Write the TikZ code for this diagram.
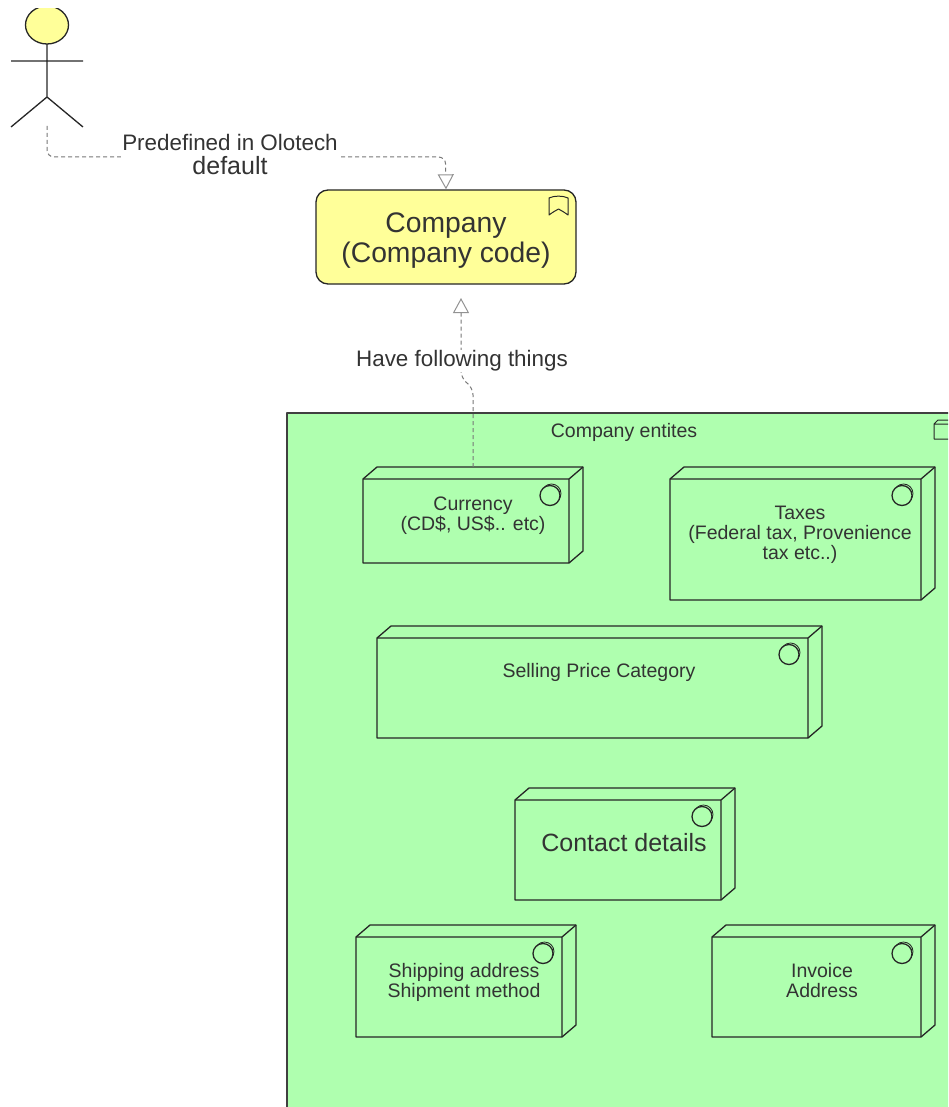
\documentclass[tikz,border=0pt]{standalone}
\usepackage{fontspec}
\setmainfont{Liberation Sans}
\usetikzlibrary{arrows.meta}
\definecolor{entgreen}{HTML}{AFFFAF}
\definecolor{compyellow}{HTML}{FFFF99}
\definecolor{labelgrey}{HTML}{333333}
\definecolor{linkgrey}{HTML}{777777}
\tikzset{
  boxline/.style={draw=black!85,line width=1.3pt,line join=round},
  linkline/.style={draw=linkgrey,line width=1pt,dash pattern=on 4pt off 3pt,rounded corners=7pt},
  linktip/.style={-{Triangle[open,length=15pt,width=16pt,line width=1pt,color=linkgrey!80]}},
  boxlabel/.style={text=labelgrey,align=center,inner sep=0pt,font=\fontsize{19.5}{20}\selectfont},
  linklabel/.style={text=labelgrey,align=center,fill=white,inner sep=1pt,font=\fontsize{22.4}{24}\selectfont},
}
% front face x0,y0 to x1,y1 with its side and top
\newcommand{\devicebox}[5]{
  \draw [boxline,fill=entgreen] (#2,#3) -- (#2+14,#3-12) -- (#4+14,#3-12) -- (#4+14,#5-12) -- (#4,#5) -- (#2,#5) -- cycle;
  \draw [boxline] (#2,#3) -- (#4,#3) -- (#4,#5) (#4,#3) -- (#4+14,#3-12);
  \draw [boxline,line width=0.8pt] (#4-17.5,#3+14.5) circle (9.5pt);
  \draw [boxline,fill=entgreen] (#4-19,#3+16.5) circle (10pt);
  \coordinate (#1) at (#2+110,#3-12);
}
\begin{document}
\begin{tikzpicture}[x=1pt,y=-1pt]
\useasboundingbox (0,0) rectangle (948,1107);
\clip (0,0) rectangle (948,1107);

% actor
\begin{scope}
\clip (0,8.5) rectangle (100,140);
\draw [boxline,fill=compyellow] (47,25) ellipse (21.5pt and 19pt);
\end{scope}
\draw [boxline] (47,44) -- (47,97) (11,61) -- (83,61) (11,127) -- (47,97) -- (83,127);
\coordinate (actorfoot) at (47,126);

% company
\node (company) [boxline,fill=compyellow,rounded corners=12pt,minimum width=260pt,minimum height=94pt,inner sep=0pt,text=labelgrey,align=center,font=\fontsize{28.3}{30}\selectfont] at (446,237) {\rule{0pt}{26pt}Company\\(Company code)};
\draw [boxline,line width=1pt] (549,198) -- (549,215) .. controls (553,212) and (555,211) .. (558.5,209) .. controls (562,211) and (564,212) .. (568,215) -- (568,198) .. controls (563,195.5) and (554,195.5) .. (549,198) -- cycle;

% entities group
\draw [boxline,line width=1.2pt,draw=black!75,fill=entgreen] (287,413) rectangle (970,1130);
\draw [boxline,line width=1pt] (934,424) -- (938,420) -- (960,420) (934,424) rectangle (960,439);
\node (entites) [boxlabel] at (624,432) {Company entites};

\devicebox{currency}{363}{479}{569}{563}
\node (currencytext) [boxlabel] at (473,516) {Currency\\(CD\$, US\$.. etc)};
\devicebox{taxes}{670}{479}{921}{600}
\node (taxestext) [boxlabel] at (800,535) {Taxes\\(Federal tax, Provenience\\tax etc..)};
\devicebox{selling}{377}{638}{808}{738}
\node (sellingtext) [boxlabel] at (599,672) {Selling Price Category};
\devicebox{contact}{515}{800}{721}{900}
\node (contacttext) [boxlabel,font=\fontsize{25}{26}\selectfont] at (624,843) {Contact details};
\devicebox{shipping}{356}{937}{562}{1037}
\node (shippingtext) [boxlabel] at (464,982) {Shipping address\\Shipment method};
\devicebox{invoice}{712}{937}{921}{1037}
\node (invoicetext) [boxlabel] at (822,981) {Invoice\\Address};

% links
\draw [linkline,linktip] (actorfoot) |- (445.5,157) -- (company.north);
\node (predefined) [linklabel] at (230,155) {Predefined in Olotech\\{\fontsize{25}{24}\selectfont default}};
\coordinate (linktop) at (461,298);
\draw [linkline,linktip] (currency) -- (473,388) -- (461,378) -- (linktop);
\node (following) [linklabel] at (462,361) {Have following things};
\end{tikzpicture}
\end{document}
